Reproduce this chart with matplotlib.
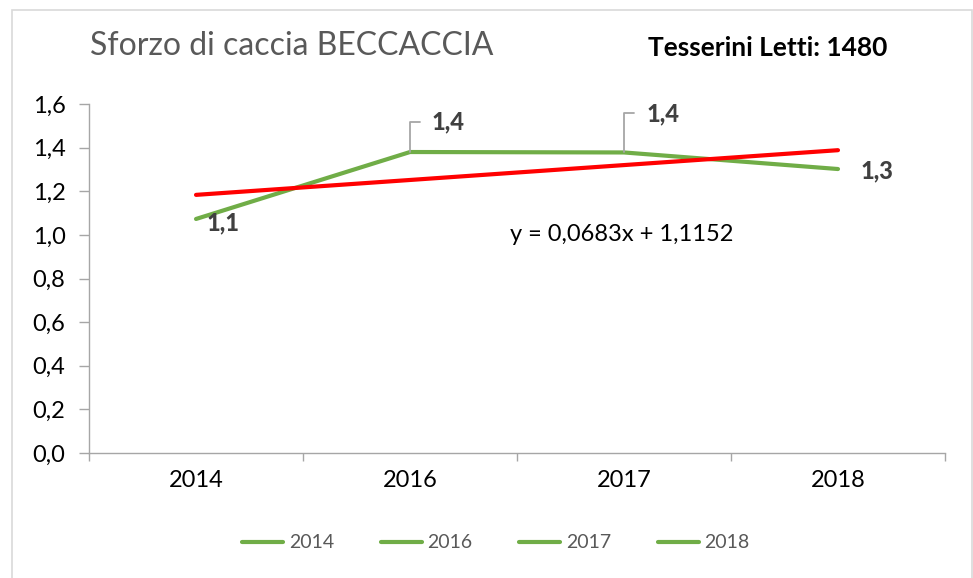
import numpy as np
import matplotlib
matplotlib.use("Agg")
import matplotlib.pyplot as plt
from matplotlib.patches import Rectangle

# data
years = ['2014', '2016', '2017', '2018']
sforzo = [1.073, 1.38, 1.378, 1.302]
trend_slope = 0.0683
trend_intercept = 1.1152
tesserini = 1480

green = '#70AD47'
red = '#FF0000'
axis_gray = '#A6A6A6'
label_gray = '#404040'

plt.rcParams['font.family'] = ['Lato', 'DejaVu Sans']

fig = plt.figure(figsize=(9.73, 5.78), dpi=100)
ax = fig.add_axes([0.0915, 0.2163, 0.8797, 0.6037])

# outer chart frame
fig.patches.append(Rectangle((12 / 973, -0.01), (972 - 12) / 973, (573 - 5) / 578 + 0.01,
                             transform=fig.transFigure, fill=False,
                             edgecolor='#D9D9D9', linewidth=1.2))

x = np.arange(len(years))
for yr in years:
    ax.plot([], [], color=green, linewidth=3, solid_capstyle='round', label=yr)
ax.plot(x, sforzo, color=green, linewidth=3, solid_capstyle='round', zorder=3)

trend = trend_slope * (x + 1) + trend_intercept
ax.plot(x, trend, color=red, linewidth=3, solid_capstyle='round', zorder=4)

ax.set_xlim(-0.5, len(years) - 0.5)
ax.set_ylim(0, 1.6)
ax.set_yticks(np.arange(0, 1.61, 0.2))
ax.set_yticklabels([f'{v:.1f}'.replace('.', ',') for v in np.arange(0, 1.61, 0.2)])
ax.set_xticks(x)
ax.set_xticklabels(years)
ax.set_xticks(np.arange(-0.5, len(years), 1.0), minor=True)
ax.tick_params(axis='x', which='major', length=0, pad=12, labelsize=17)
ax.tick_params(axis='x', which='minor', length=6, color=axis_gray, width=1)
ax.tick_params(axis='y', length=7, color=axis_gray, width=1, pad=10, labelsize=17)

for side in ['top', 'right']:
    ax.spines[side].set_visible(False)
for side in ['left', 'bottom']:
    ax.spines[side].set_color(axis_gray)
    ax.spines[side].set_linewidth(1)

# data labels
fmt = lambda v: f'{v:.1f}'.replace('.', ',')
lbl = dict(textcoords='offset pixels', ha='left', va='center', fontsize=17,
           fontweight='black', color=label_gray)
leader = dict(arrowstyle='-', color='#A6A6A6', lw=1.3, shrinkA=7, shrinkB=0,
              relpos=(0, 0.5), connectionstyle='angle,angleA=0,angleB=90,rad=0')
ax.annotate(fmt(sforzo[0]), (x[0], sforzo[0]), xytext=(11, -4), **lbl)
ax.annotate(fmt(sforzo[1]), (x[1], sforzo[1]), xytext=(22, 30), arrowprops=leader, **lbl)
ax.annotate(fmt(sforzo[2]), (x[2], sforzo[2]), xytext=(23, 39), arrowprops=leader, **lbl)
ax.annotate(fmt(sforzo[3]), (x[3], sforzo[3]), xytext=(23, -2), **lbl)

# trendline equation
eq = f'y = {trend_slope:.4f}x + {trend_intercept:.4f}'.replace('.', ',')
ax.text(1.99, 1.0, eq, ha='center', va='center', fontsize=17, color='black')

fig.text(90 / 973, 1 - 46 / 578, 'Sforzo di caccia BECCACCIA', ha='left', va='center',
         fontsize=23, color='#595959')
fig.text(887 / 973, 1 - 48 / 578, f'Tesserini Letti: {tesserini}', ha='right', va='center',
         fontsize=19, fontweight='bold', color='black')

leg = fig.legend(loc='center', bbox_to_anchor=(496 / 973, 1 - 543 / 578), ncol=4,
                 frameon=False, fontsize=14, handlelength=2.1, columnspacing=2.4,
                 handletextpad=0.3)
for t in leg.get_texts():
    t.set_color('#595959')

fig.savefig('out.png', dpi=100)
